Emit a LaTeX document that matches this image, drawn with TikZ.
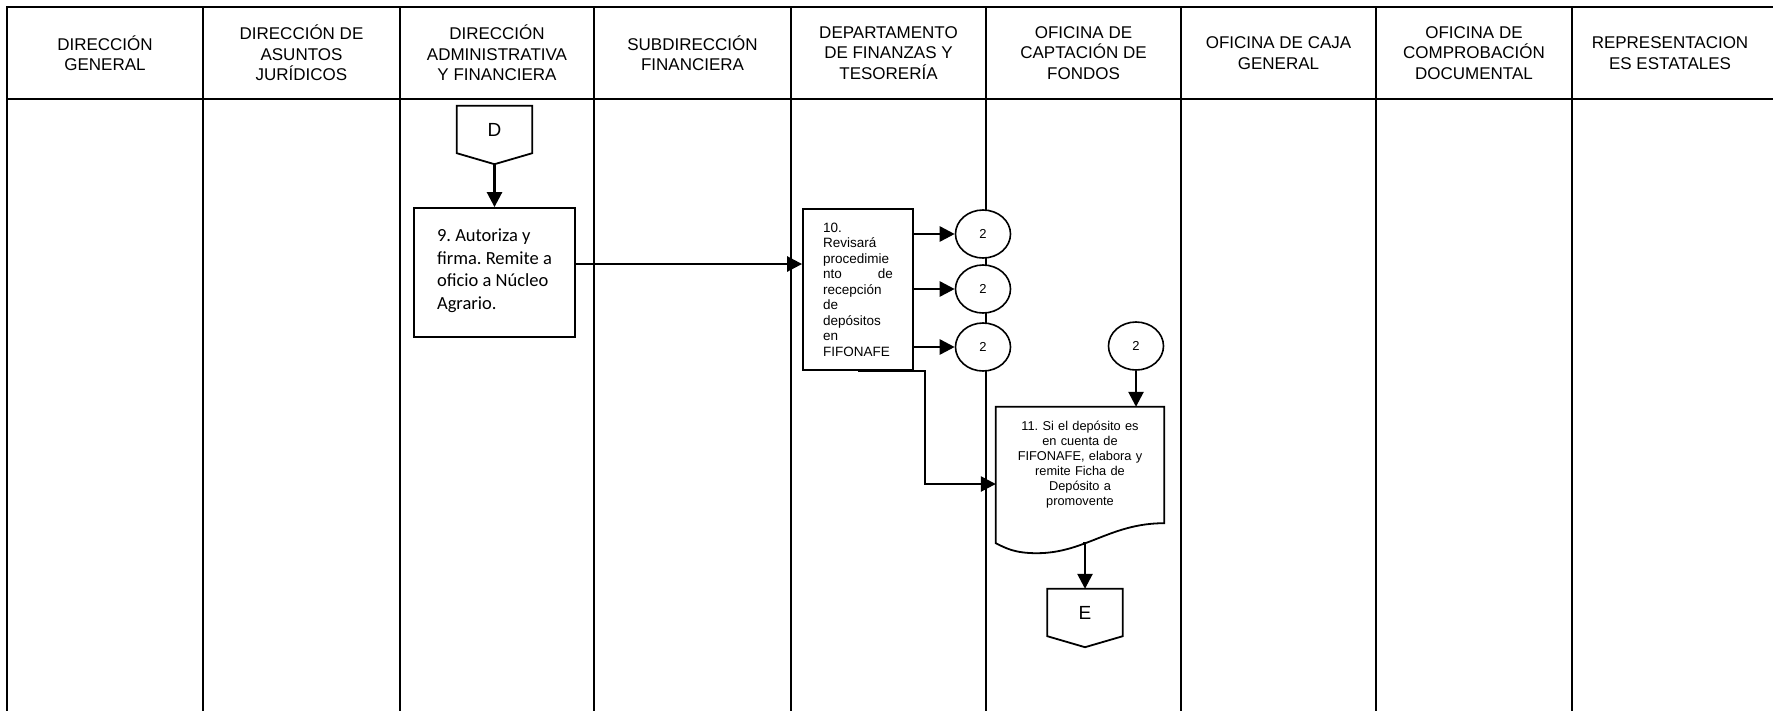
\documentclass[tikz,border=0pt]{standalone}
\usepackage{fontspec}
\setmainfont{Liberation Sans}
\newfontfamily\calibri{Carlito}
\usetikzlibrary{arrows.meta,calc,shapes.geometric}

\begin{document}
\frenchspacing
\begin{tikzpicture}[x=1pt,y=-1pt,
  lane/.style={line width=2.4pt, line cap=rect},
  head/.style={align=center, inner sep=0, font=\fontsize{17}{20.5}\selectfont},
  boxline/.style={line width=1.8pt},
  proc/.style={draw, boxline, inner sep=0, fill=white},
  conn/.style={draw, ellipse, fill=white, line width=1.6pt, minimum width=55pt, minimum height=48pt,
    inner sep=0, font=\fontsize{13}{15}\selectfont},
  offpage/.style={minimum width=75pt, minimum height=47pt, inner sep=0,
    font=\fontsize{19}{22}\selectfont},
  flow/.style={line width=2.6pt, -{Triangle[length=15pt,width=15pt]}},
]
\useasboundingbox (0,0) rectangle (1773,710);

% swimlane frame
\draw[lane] (7,7) -- (1773,7);
\draw[lane] (7,99) -- (1773,99);
\foreach \x in {7,203,400,594,791,986,1181,1376,1572}
  \draw[lane] (\x,7) -- (\x,710);

% lane headings
\node[head] (h1) at (105,53)    {DIRECCIÓN\\GENERAL};
\node[head] (h2) at (301.5,53)  {DIRECCIÓN DE\\ASUNTOS\\JURÍDICOS};
\node[head] (h3) at (497,53)    {DIRECCIÓN\\ADMINISTRATIVA\\Y FINANCIERA};
\node[head] (h4) at (692.5,53)  {SUBDIRECCIÓN\\FINANCIERA};
\node[head] (h5) at (888.5,53)  {DEPARTAMENTO\\DE FINANZAS Y\\TESORERÍA};
\node[head] (h6) at (1083.5,53) {OFICINA DE\\CAPTACIÓN DE\\FONDOS};
\node[head] (h7) at (1278.5,53) {OFICINA DE CAJA\\GENERAL};
\node[head] (h8) at (1474,53)   {OFICINA DE\\COMPROBACIÓN\\DOCUMENTAL};
\node[head] (h9) at (1670,53)   {REPRESENTACION\\ES ESTATALES};

% off-page connectors
\node[offpage] (D) at (494.5,129.5) {D};
\node[offpage] (E) at (1085,612.5) {E};
\foreach \n in {D,E}
  \draw[boxline] (\n.north west) -- (\n.north east) -- (\n.south east)
    -- ($(\n.south)+(0,11)$) -- (\n.south west) -- cycle;
\coordinate (Dtip) at ($(D.south)+(0,11)$);

% step 9
\node[proc, minimum width=161pt, minimum height=129pt, align=left,
  font=\calibri\fontsize{18.5}{22.5}\selectfont] (b9) at (494.5,272.5)
  {9. Autoriza y\\firma. Remite a\\oficio a Núcleo\\Agrario.\\[-16pt]\mbox{}};

% step 10
\node[proc, minimum width=110pt, minimum height=161pt, text width=70pt, align=left,
  font=\fontsize{13.5}{15.5}\selectfont] (b10) at (858,289.5)
  {10.\\Revisará\\procedimie\\nto\hfill de\\recepción\\de\\depósitos\\en\\FIFONAFE};

% on-page connectors
\node[conn] (c1) at (983,234) {2};
\node[conn] (c2) at (983,289) {2};
\node[conn] (c3) at (983,347) {2};
\node[conn] (c4) at (1136,346) {2};

% step 11 (document)
\node[inner sep=0, minimum width=168pt, minimum height=116pt, text width=145pt, align=center,
  font=\fontsize{12.8}{15}\selectfont] (b11) at (1080,465)
  {11. Si el depósito es\\en cuenta de\\FIFONAFE, elabora y\\remite Ficha de\\Depósito a\\promovente};
\draw[boxline] ($(b11.south west)+(0,20)$) -- (b11.north west) -- (b11.north east) -- (b11.south east)
  .. controls ($(b11.south east)+(-54,0)$) and ($(b11.south west)+(89,30)$) .. ($(b11.south west)+(41,30)$)
  .. controls ($(b11.south west)+(19,30)$) and ($(b11.south west)+(10,25)$) .. ($(b11.south west)+(0,20)$)
  -- cycle;
\coordinate (w) at ($(b11.south)+(3,20)$);

% connectors
\draw[flow] (Dtip) -- (b9.north);
\draw[flow] ([yshift=8.5pt]b9.east) -- ([yshift=8.5pt]b9.east -| b10.west);
\draw[flow] (b10.east |- c1) -- (c1);
\draw[flow] (b10.east |- c2) -- (c2);
\draw[flow] (b10.east |- c3) -- (c3);
\draw[flow] (b10.south) -- ++(67,0) |- ([yshift=-19pt]b11.west);
\draw[flow] (c4.south) -- (c4.south |- b11.north);
\draw[flow] (w) -- (w -| E.north) -- (E.north);
\end{tikzpicture}
\end{document}
